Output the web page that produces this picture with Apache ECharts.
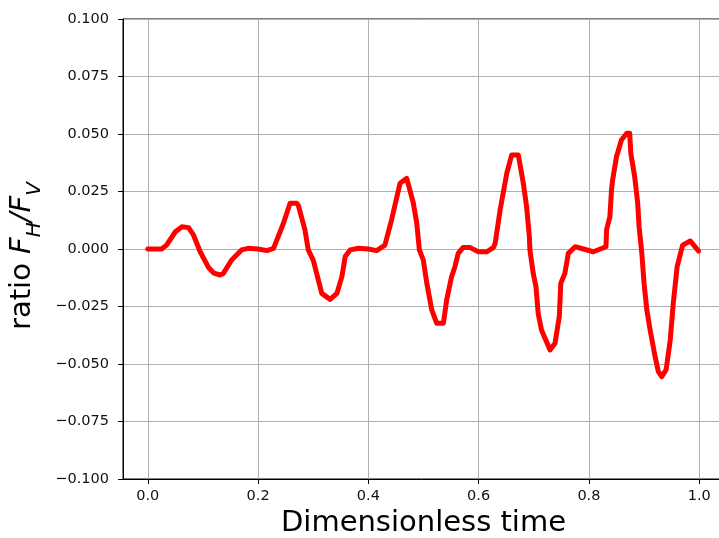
<!DOCTYPE html>
<html>
<head>
<meta charset="utf-8">
<script src="https://cdn.jsdelivr.net/npm/echarts@6/dist/echarts.min.js"></script>
<style>
html,body{margin:0;padding:0;background:#fff;}
#chart{width:719px;height:538px;}
</style>
</head>
<body>
<div id="chart"></div>
<script>
// Data
var timeVals = [0.000,0.025,0.034,0.050,0.062,0.074,0.083,0.095,0.110,0.120,0.131,0.137,0.152,0.170,0.182,0.200,0.216,0.228,0.246,0.258,0.270,0.273,0.285,0.291,0.300,0.3155,0.3306,0.343,0.352,0.358,0.367,0.382,0.400,0.415,0.430,0.442,0.4575,0.4696,0.4816,0.4878,0.4925,0.4997,0.506,0.515,0.524,0.536,0.542,0.551,0.557,0.563,0.572,0.584,0.5995,0.615,0.627,0.630,0.639,0.651,0.660,0.672,0.681,0.687,0.692,0.693,0.699,0.704,0.708,0.714,0.7295,0.7385,0.7463,0.749,0.7564,0.7627,0.775,0.790,0.808,0.831,0.832,0.838,0.841,0.843,0.850,0.859,0.8686,0.874,0.876,0.883,0.8885,0.891,0.896,0.900,0.905,0.911,0.920,0.926,0.932,0.940,0.9475,0.953,0.960,0.970,0.9837,0.999];
var ratioVals = [0.0000,0.0000,0.0017,0.0075,0.0097,0.0093,0.0060,-0.0012,-0.0080,-0.0105,-0.0113,-0.0106,-0.0048,-0.0004,0.0003,0.0000,-0.0007,0.0003,0.0112,0.0199,0.0199,0.0190,0.0083,-0.0004,-0.0048,-0.0193,-0.0219,-0.0193,-0.0120,-0.0033,-0.0004,0.0003,0.0000,-0.0007,0.0017,0.0126,0.0286,0.0307,0.0199,0.0112,-0.0004,-0.0048,-0.0149,-0.0265,-0.0323,-0.0323,-0.0222,-0.0120,-0.0077,-0.0019,0.0007,0.0007,-0.0012,-0.0012,0.0007,0.0025,0.0170,0.0329,0.0409,0.0409,0.0286,0.0184,0.0053,-0.0004,-0.0106,-0.0164,-0.0280,-0.0352,-0.0439,-0.0410,-0.0294,-0.0149,-0.0106,-0.0019,0.0010,0.0000,-0.0012,0.0010,0.0083,0.0140,0.0257,0.0300,0.0401,0.0474,0.0503,0.0503,0.0416,0.0314,0.0199,0.0097,-0.0019,-0.0149,-0.0265,-0.0352,-0.0468,-0.0533,-0.0555,-0.0526,-0.0396,-0.0236,-0.0077,0.0017,0.0035,-0.0009];
var xTicks = [0.0,0.2,0.4,0.6,0.8,1.0];
var yTicks = [-0.100,-0.075,-0.050,-0.025,0.000,0.025,0.050,0.075,0.100];

var seriesData = timeVals.map(function(t,i){return [t, ratioVals[i]];});
var font = 'DejaVu Sans';

var chart = echarts.init(document.getElementById('chart'), null, {renderer:'canvas'});
chart.setOption({
  animation:false,
  backgroundColor:'#fff',
  grid:{left:123, top:19, width:601, height:460, containLabel:false, outerBoundsMode:'none',
    show:true, borderColor:'#000', borderWidth:1, backgroundColor:'transparent'},
  xAxis:{
    type:'value', min:-0.045, max:1.045,
    name:'Dimensionless time', nameLocation:'middle', nameGap:29,
    nameTextStyle:{fontFamily:font, fontSize:29, color:'#000'},
    axisLine:{show:true, onZero:false, lineStyle:{color:'#000', width:1}},
    axisTick:{show:true, length:5, inside:false, customValues:xTicks, lineStyle:{color:'#000'}},
    axisLabel:{customValues:xTicks, margin:10, fontFamily:font, fontSize:14.5, color:'#111',
      formatter:function(v){return v.toFixed(1);}},
    splitLine:{show:true, lineStyle:{color:'#b0b0b0', width:1}}
  },
  yAxis:{
    type:'value', min:-0.1, max:0.1, interval:0.025,
    name:'{r|ratio }{i|F}{s|H}{i|/F}{s|V}', nameLocation:'middle', nameGap:78, nameRotate:90,
    nameTextStyle:{fontFamily:font, fontSize:29, color:'#000', padding:[0,14,0,0],
      rich:{
        r:{fontFamily:font, fontSize:29, color:'#000', lineHeight:36, verticalAlign:'top'},
        i:{fontFamily:font, fontSize:29, fontStyle:'italic', color:'#000', lineHeight:36, verticalAlign:'top'},
        s:{fontFamily:font, fontSize:20, fontStyle:'italic', color:'#000', lineHeight:20, verticalAlign:'bottom'}
      }},
    axisLine:{show:true, onZero:false, lineStyle:{color:'#000', width:1}},
    axisTick:{show:true, length:5, inside:false, lineStyle:{color:'#000'}},
    axisLabel:{margin:14, fontFamily:font, fontSize:14.5, color:'#111',
      formatter:function(v){var s=Math.abs(v).toFixed(3); return (v< -1e-9?'\u2212':'')+s;}},
    splitLine:{show:true, lineStyle:{color:'#b0b0b0', width:1}}
  },
  series:[{
    type:'line', data:seriesData, showSymbol:false, smooth:false,
    lineStyle:{color:'#ff0000', width:5, join:'round', cap:'round'},
    itemStyle:{color:'#ff0000'}
  }]
});
</script>
</body>
</html>
